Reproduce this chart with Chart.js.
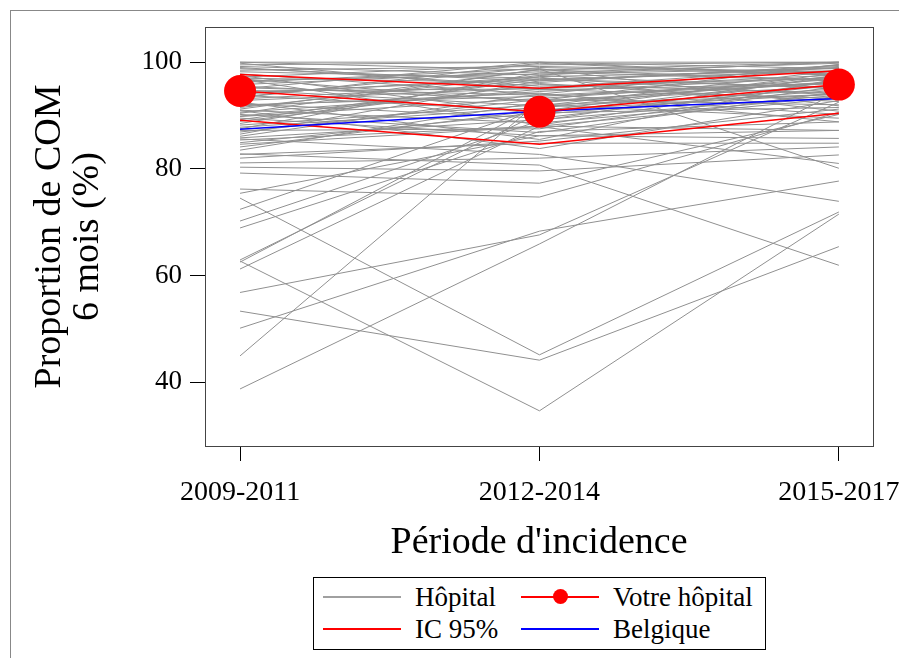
<!DOCTYPE html>
<html>
<head>
<meta charset="utf-8">
<script src="https://cdn.jsdelivr.net/npm/chart.js@4.4.1/dist/chart.umd.min.js"></script>
<style>
html, body { margin: 0; padding: 0; background: #fff; }
#wrap { position: relative; width: 899px; height: 658px; overflow: hidden; }
#cadre { position: absolute; left: 10px; top: 10px; width: 960px; height: 720px; border: 1px solid #888; }
#graphique { position: absolute; left: 0; top: 0; }
#legende { position: absolute; left: 313px; top: 577px; width: 451px; height: 71px; border: 1px solid #000; background: #fff;
  font-family: "Liberation Serif", serif; font-size: 27px; color: #000; }
.trait { position: absolute; height: 2px; width: 78px; }
.pastille { position: absolute; width: 15px; height: 15px; border-radius: 50%; background: #f00; }
.texte { position: absolute; height: 32px; line-height: 32px; white-space: nowrap; }
</style>
</head>
<body>
<div id="wrap">
  <div id="cadre"></div>
  <canvas id="graphique" width="899" height="658"></canvas>
  <div id="legende">
    <div class="trait" style="left:9px; top:18px; background:#a0a0a0;"></div>
    <div class="texte" style="left:101px; top:3px;">Hôpital</div>
    <div class="trait" style="left:207px; top:18px; background:#ff0000;"></div>
    <div class="pastille" style="left:239px; top:11px;"></div>
    <div class="texte" style="left:299px; top:3px;">Votre hôpital</div>
    <div class="trait" style="left:9px; top:50px; background:#ff0000;"></div>
    <div class="texte" style="left:101px; top:35px;">IC 95%</div>
    <div class="trait" style="left:207px; top:50px; background:#0000ff;"></div>
    <div class="texte" style="left:299px; top:35px;">Belgique</div>
  </div>
</div>
<script>
const periodes = ['2009-2011', '2012-2014', '2015-2017'];
const graduationsY = [40, 60, 80, 100];

const votreHopital = [94.6, 90.7, 95.8];
const icHaut = [97.7, 95.1, 98.4];
const icBas = [89.1, 84.6, 90.4];
const belgique = [87.4, 90.8, 93.2];

// un hôpital par ligne : [2009-2011, 2012-2014, 2015-2017]
const hopitaux = [
  [100, 100, 100],
  [100, 98.5, 100],
  [99.5, 100, 97.5],
  [98.8, 96.5, 99.2],
  [97.2, 99.5, 100],
  [96.5, 97.8, 98.8],
  [99, 95.5, 97],
  [95.8, 98.2, 96.5],
  [97.8, 94, 99.5],
  [94.2, 96.8, 98.2],
  [96.9, 92.5, 95.5],
  [93.5, 99, 97.8],
  [98.2, 97, 93.8],
  [92.8, 95.2, 99],
  [95.2, 93.8, 96.2],
  [91.5, 97.5, 95],
  [94.8, 91.8, 98.5],
  [90.6, 94.5, 97.2],
  [97.5, 90.2, 94.8],
  [93.1, 96, 92.6],
  [89.8, 93.2, 96.8],
  [96.2, 98.8, 91.8],
  [92.2, 89.5, 95.8],
  [88.9, 95.8, 94.2],
  [95.5, 92.8, 99.6],
  [91, 88.6, 93.5],
  [99.8, 94.8, 96],
  [87.8, 91.5, 97.5],
  [94, 97.2, 90.8],
  [90.2, 86.8, 94.5],
  [86.9, 93, 92],
  [93.8, 90.8, 98],
  [89.2, 96.8, 95.3],
  [85.8, 89.2, 93.8],
  [92.5, 85.5, 97],
  [88.2, 92, 89.5],
  [96.8, 88.2, 96.6],
  [84.9, 90.5, 91.5],
  [91.8, 94.2, 88.8],
  [87.2, 87.5, 95.5],
  [98.5, 99.2, 98.2],
  [86.1, 94, 90.2],
  [90.9, 83.8, 92.8],
  [85.4, 88, 87.2],
  [84.1, 91, 94],
  [89.5, 86.2, 85.7],
  [83.5, 92.5, 96.4],
  [82.7, 84.8, 84.8],
  [82, 85.2, 91.2],
  [81.1, 82, 84.1],
  [80.3, 79.6, 82.6],
  [87.5, 98, 99.8],
  [93.3, 99.8, 97.5],
  [95, 100, 98.8],
  [99.2, 97.6, 100],
  [97, 96.2, 99.4],
  [91.2, 98.6, 96.6],
  [94.6, 95, 97.6],
  [88.5, 97.3, 98.4],
  [86.5, 96.5, 99],
  [92, 93.6, 96],
  [89.9, 94.9, 93.2],
  [84.6, 87.9, 81],
  [90.4, 98.7, 80.1],
  [85.6, 82.7, 73.9],
  [82.8, 80.7, 61.9],
  [79.2, 77.3, 90.2],
  [76.2, 74.7, 90.6],
  [75.4, 86.2, 87.2],
  [74.5, 45.1, 71.9],
  [72.4, 91.5, 95],
  [70.2, 89, 97.6],
  [68.9, 87, 88.8],
  [62.9, 90.4, 97.2],
  [62.5, 92, 94],
  [62.7, 34.6, 71.5],
  [61.2, 88, 93.2],
  [56.8, 67.6, 92.5],
  [53.3, 44.1, 65.4],
  [50.1, 68.3, 77.7],
  [44.9, 92.7, 96.2],
  [38.7, 65.9, 94.5]
];

const enPoints = vals => vals.map((v, i) => ({ x: i, y: v }));
const police = 'Liberation Serif';

const datasets = [
  { label: 'Votre hôpital', data: enPoints(votreHopital), borderColor: '#ff0000', backgroundColor: '#ff0000',
    borderWidth: 1.5, pointRadius: 16, pointBorderWidth: 0, pointHoverRadius: 16, order: 0 },
  { label: 'Belgique', data: enPoints(belgique), borderColor: '#0000ff', borderWidth: 1.5, pointRadius: 0, order: 1 },
  { label: 'IC 95%', data: enPoints(icHaut), borderColor: '#ff0000', borderWidth: 1.5, pointRadius: 0, order: 2 },
  { label: 'IC 95%', data: enPoints(icBas), borderColor: '#ff0000', borderWidth: 1.5, pointRadius: 0, order: 2 }
];
hopitaux.forEach(h => {
  datasets.push({ label: 'Hôpital', data: enPoints(h), borderColor: '#909090', borderWidth: 1, pointRadius: 0, order: 3 });
});

const cadrePlot = {
  id: 'cadrePlot',
  afterDraw(chart) {
    const { ctx, chartArea: a } = chart;
    ctx.save();
    ctx.strokeStyle = '#444';
    ctx.lineWidth = 1;
    ctx.strokeRect(a.left + 0.5, a.top + 0.5, a.right - a.left, a.bottom - a.top);
    ctx.restore();
  }
};

new Chart(document.getElementById('graphique'), {
  type: 'line',
  data: { datasets },
  plugins: [cadrePlot],
  options: {
    responsive: false,
    animation: false,
    layout: { padding: { left: 0, top: 27, right: 26, bottom: 0 } },
    plugins: { legend: { display: false }, tooltip: { enabled: false } },
    elements: { line: { tension: 0 } },
    scales: {
      x: {
        type: 'linear',
        min: -0.117,
        max: 2.114,
        afterBuildTicks: s => { s.ticks = periodes.map((p, i) => ({ value: i })); },
        afterFit: s => { s.height = 212; s.paddingLeft = 0; s.paddingRight = 0; },
        ticks: { callback: v => periodes[v], autoSkip: false, maxRotation: 0,
          font: { family: police, size: 28 }, color: '#000', padding: 15 },
        grid: { drawOnChartArea: false, tickLength: 15, color: '#000' },
        border: { display: false },
        title: { display: true, text: "Période d'incidence", color: '#000',
          font: { family: police, size: 38, lineHeight: 1 }, padding: { top: 0, bottom: 96 } }
      },
      y: {
        type: 'linear',
        min: 28,
        max: 106.6,
        afterBuildTicks: s => { s.ticks = graduationsY.map(v => ({ value: v })); },
        afterFit: s => { s.width = 205; s.paddingTop = 0; s.paddingBottom = 0; },
        ticks: { font: { family: police, size: 27 }, color: '#000', padding: 8 },
        grid: { drawOnChartArea: false, tickLength: 15, color: '#000' },
        border: { display: false },
        title: { display: true, text: ['Proportion de COM', '6 mois (%)'], color: '#000',
          font: { family: police, size: 38, lineHeight: 1 }, padding: { top: 31, bottom: 0 } }
      }
    }
  }
});
</script>
</body>
</html>
